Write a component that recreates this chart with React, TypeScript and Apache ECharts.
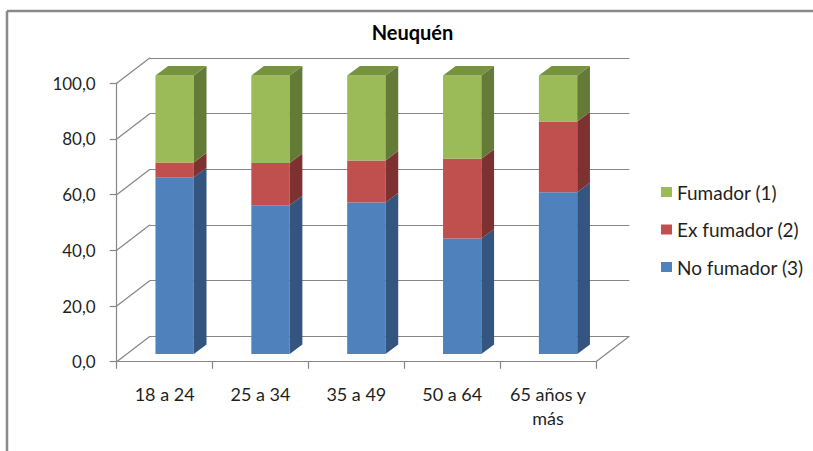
import React, { useEffect, useRef } from "react";
import * as echarts from "echarts";

const categories = ["18 a 24", "25 a 34", "35 a 49", "50 a 64", "65 años y más"];
const noFumador = [63.5, 53.4, 54.4, 41.5, 58.1];
const exFumador = [5.3, 15.2, 15.1, 28.6, 25.4];
const fumador = [31.2, 31.4, 30.5, 29.9, 16.5];
const yTicks = [0, 20, 40, 60, 80, 100];
const seriesNames = ["No fumador (3)", "Ex fumador (2)", "Fumador (1)"];

// geometry (layout only)
const FRONT = { left: 116.7, top: 83.3, width: 479.3, height: 278.4 };
const BACK = { dx: 33.3, dy: -25.5 };
const BAR_OFF = { dx: 10, dy: -7.7 };
const BAR_DEPTH = { dx: 12.7, dy: -9.5 };
const BAR_RATIO = 0.4;
const FONT = "Lato";
const GREY = "#868686";

const COLORS = [
  { front: "#4F81BD", side: "#33557F", top: "#3E6697" },
  { front: "#C0504D", side: "#7D3130", top: "#963D3B" },
  { front: "#9BBB59", side: "#647B37", top: "#77933C" },
];

export default function App() {
  const ref = useRef<HTMLDivElement>(null);
  useEffect(() => {
    if (!ref.current) return;
    document.body.style.margin = "0";
    document.body.style.overflow = "hidden";
    const chart = echarts.init(ref.current, undefined, { renderer: "svg" });
    const stacks = [noFumador, exFumador, fumador];
    const bases = categories.map(() => 0);
    const barSeries = stacks.map((vals, si) => {
      const data = vals.map((v, i) => {
        const lo = bases[i];
        bases[i] = lo + v;
        return [i, lo, lo + v];
      });
      const c = COLORS[si];
      const isTop = si === stacks.length - 1;
      return {
        type: "custom",
        name: seriesNames[si],
        xAxisIndex: 2,
        yAxisIndex: 2,
        itemStyle: { color: c.front },
        encode: { x: 0, y: [1, 2] },
        data,
        z: 10,
        renderItem: (params: any, api: any) => {
          const i = api.value(0);
          const lo = api.coord([i, api.value(1)]);
          const hi = api.coord([i, api.value(2)]);
          const w = api.size([1, 0])[0] * BAR_RATIO;
          const x0 = lo[0] - w / 2;
          const x1 = lo[0] + w / 2;
          const { dx, dy } = BAR_DEPTH;
          const children: any[] = [
            {
              type: "rect",
              shape: { x: x0, y: hi[1], width: w, height: lo[1] - hi[1] },
              style: { fill: c.front },
            },
            {
              type: "polygon",
              shape: {
                points: [
                  [x1, hi[1]],
                  [x1 + dx, hi[1] + dy],
                  [x1 + dx, lo[1] + dy],
                  [x1, lo[1]],
                ],
              },
              style: { fill: c.side },
            },
          ];
          if (isTop) {
            children.push({
              type: "polygon",
              shape: {
                points: [
                  [x0, hi[1]],
                  [x0 + dx, hi[1] + dy],
                  [x1 + dx, hi[1] + dy],
                  [x1, hi[1]],
                ],
              },
              style: { fill: c.top },
            });
          }
          return { type: "group", children };
        },
      };
    });

    const wallSeries = {
      type: "custom",
      name: "walls",
      xAxisIndex: 0,
      yAxisIndex: 0,
      silent: true,
      z: 1,
      data: yTicks.map((v) => [0, v]),
      encode: { x: 0, y: 1 },
      renderItem: (params: any, api: any) => {
        const v = api.value(1);
        const p = api.coord([0, v]);
        const y = p[1];
        const x = FRONT.left;
        const children: any[] = [
          {
            type: "line",
            shape: { x1: x, y1: y, x2: x + BACK.dx, y2: y + BACK.dy },
            style: { stroke: GREY, lineWidth: 1.2 },
          },
        ];
        if (v === 0) {
          const xr = FRONT.left + FRONT.width;
          children.push({
            type: "line",
            shape: { x1: xr, y1: y, x2: xr + BACK.dx, y2: y + BACK.dy },
            style: { stroke: GREY, lineWidth: 1.2 },
          });
        }
        return { type: "group", children };
      },
    };

    const gridFront = { left: FRONT.left, top: FRONT.top, width: FRONT.width, height: FRONT.height };
    const gridBack = {
      left: FRONT.left + BACK.dx,
      top: FRONT.top + BACK.dy,
      width: FRONT.width,
      height: FRONT.height,
    };
    const gridBars = {
      left: FRONT.left + BAR_OFF.dx,
      top: FRONT.top + BAR_OFF.dy,
      width: FRONT.width,
      height: FRONT.height,
    };

    chart.setOption({
      animation: false,
      grid: [gridFront, gridBack, gridBars],
      xAxis: [
        {
          type: "category",
          gridIndex: 0,
          data: categories,
          boundaryGap: true,
          axisLine: { lineStyle: { color: GREY, width: 1.2 } },
          axisTick: { show: true, length: 7, interval: 0, lineStyle: { color: GREY, width: 1.2 } },
          axisLabel: {
            interval: 0,
            margin: 20,
            fontFamily: FONT,
            fontSize: 18,
            lineHeight: 24,
            color: "#1f1f1f",
            formatter: (v: string) => v.replace(" y más", " y\nmás"),
          },
          splitLine: { show: false },
        },
        { type: "category", gridIndex: 1, data: categories, show: false },
        { type: "category", gridIndex: 2, data: categories, show: false },
      ],
      yAxis: [
        {
          type: "value",
          gridIndex: 0,
          min: 0,
          max: 100,
          interval: 20,
          axisLine: { show: true, lineStyle: { color: GREY, width: 1.2 } },
          axisTick: { show: true, length: 7, lineStyle: { color: GREY, width: 1.2 } },
          axisLabel: {
            margin: 21,
            fontFamily: FONT,
            fontSize: 17,
            color: "#1f1f1f",
            formatter: (v: number) => v.toFixed(1).replace(".", ","),
          },
          splitLine: { show: false },
        },
        {
          type: "value",
          gridIndex: 1,
          min: 0,
          max: 100,
          interval: 20,
          axisLine: { show: false },
          axisTick: { show: false },
          axisLabel: { show: false },
          splitLine: { show: true, lineStyle: { color: GREY, width: 1.2 } },
        },
        { type: "value", gridIndex: 2, min: 0, max: 100, interval: 20, show: false },
      ],
      legend: {
        orient: "vertical",
        left: 656,
        top: 177,
        icon: "rect",
        itemWidth: 11,
        itemHeight: 10,
        itemGap: 17.5,
        data: ["Fumador (1)", "Ex fumador (2)", "No fumador (3)"],
        textStyle: { fontFamily: FONT, fontSize: 19, color: "#1f1f1f", lineHeight: 20 },
      },
      graphic: [
        {
          type: "line",
          shape: { x1: 7, y1: 11, x2: 820, y2: 11 },
          style: { stroke: "#8a8a8a", lineWidth: 2.5 },
          silent: true,
        },
        {
          type: "line",
          shape: { x1: 7, y1: 11, x2: 7, y2: 460 },
          style: { stroke: "#8a8a8a", lineWidth: 2.5 },
          silent: true,
        },
        {
          type: "text",
          x: 412.5,
          y: 32,
          style: {
            text: "Neuquén",
            fontFamily: FONT,
            fontWeight: "bold",
            fontSize: 20,
            fill: "#000",
            align: "center",
            verticalAlign: "middle",
          },
        },
      ],
      series: [wallSeries, ...barSeries],
    });
    return () => chart.dispose();
  }, []);
  return (
    <div
      ref={ref}
      style={{ position: "fixed", left: 0, top: 0, width: 813, height: 451, background: "#fff" }}
    />
  );
}
